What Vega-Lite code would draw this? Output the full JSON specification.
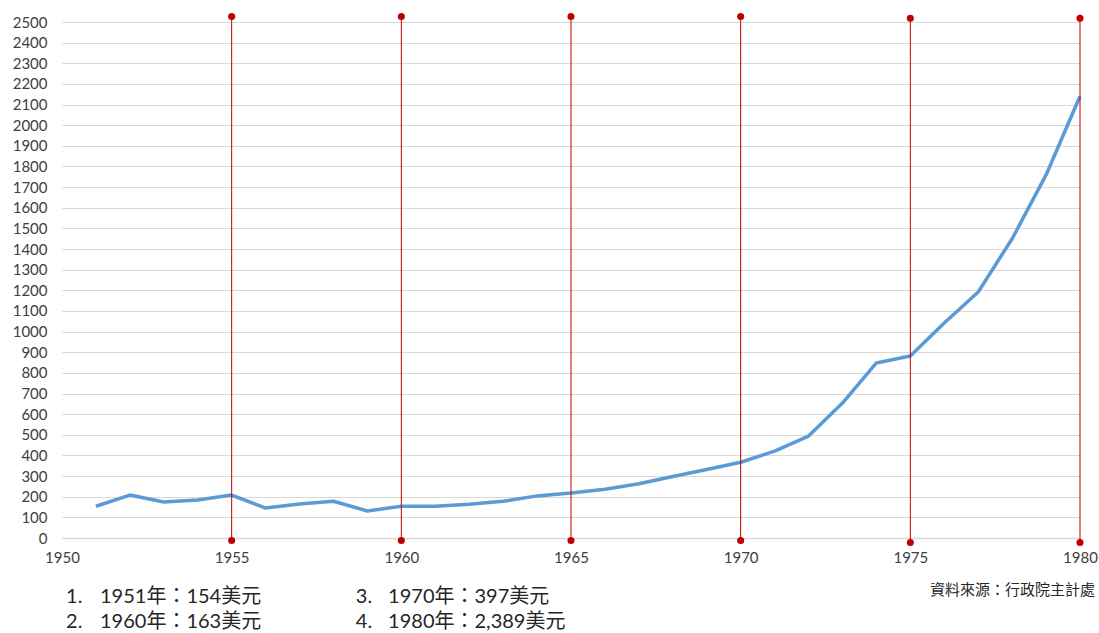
{
  "$schema": "https://vega.github.io/schema/vega-lite/v6.json",
  "width": 1018,
  "height": 516,
  "autosize": {"type": "none"},
  "padding": {"left": 62, "top": 22, "right": 19, "bottom": 95},
  "background": "white",
  "config": {
    "view": {"stroke": null},
    "axis": {"labelFont": "Lato", "labelColor": "#404040", "labelFontSize": 15, "labelFlush": false, "labelBound": false, "labelOverlap": false, "ticks": false, "title": null},
    "axisX": {"grid": false, "domainColor": "#d9d9d9", "domainWidth": 1.5, "labelPadding": 12},
    "axisY": {"grid": true, "gridColor": "#d9d9d9", "gridWidth": 1, "domain": false, "labelPadding": 15}
  },
  "datasets": {
    "gdp": [
      {"year": 1951, "value": 154},
      {"year": 1952, "value": 208},
      {"year": 1953, "value": 174},
      {"year": 1954, "value": 184},
      {"year": 1955, "value": 208},
      {"year": 1956, "value": 145},
      {"year": 1957, "value": 165},
      {"year": 1958, "value": 178},
      {"year": 1959, "value": 131},
      {"year": 1960, "value": 154},
      {"year": 1961, "value": 154},
      {"year": 1962, "value": 163},
      {"year": 1963, "value": 178},
      {"year": 1964, "value": 204},
      {"year": 1965, "value": 218},
      {"year": 1966, "value": 236},
      {"year": 1967, "value": 263},
      {"year": 1968, "value": 298},
      {"year": 1969, "value": 332},
      {"year": 1970, "value": 367},
      {"year": 1971, "value": 421},
      {"year": 1972, "value": 494},
      {"year": 1973, "value": 654},
      {"year": 1974, "value": 848},
      {"year": 1975, "value": 882},
      {"year": 1976, "value": 1042},
      {"year": 1977, "value": 1192},
      {"year": 1978, "value": 1450},
      {"year": 1979, "value": 1759},
      {"year": 1980, "value": 2140}
    ],
    "markers": [
      {"year": 1955, "top": 2527, "bottom": -12},
      {"year": 1960, "top": 2527, "bottom": -12},
      {"year": 1965, "top": 2527, "bottom": -12},
      {"year": 1970, "top": 2527, "bottom": -12},
      {"year": 1975, "top": 2518, "bottom": -22},
      {"year": 1980, "top": 2518, "bottom": -22}
    ]
  },
  "layer": [
    {
      "data": {"name": "gdp"},
      "mark": {"type": "line", "color": "#5b9bd5", "strokeWidth": 3.5, "strokeJoin": "round"},
      "encoding": {
        "x": {
          "field": "year", "type": "quantitative",
          "scale": {"domain": [1950, 1980], "nice": false, "zero": false},
          "axis": {"values": [1950, 1955, 1960, 1965, 1970, 1975, 1980], "format": "d"}
        },
        "y": {
          "field": "value", "type": "quantitative",
          "scale": {"domain": [0, 2500], "nice": false},
          "axis": {"values": [0,100,200,300,400,500,600,700,800,900,1000,1100,1200,1300,1400,1500,1600,1700,1800,1900,2000,2100,2200,2300,2400,2500], "format": "d"}
        }
      }
    },
    {
      "data": {"name": "markers"},
      "mark": {"type": "rule", "color": "#c00000", "strokeWidth": 1},
      "encoding": {
        "x": {"field": "year", "type": "quantitative", "axis": {"values": [1950, 1955, 1960, 1965, 1970, 1975, 1980], "format": "d"}},
        "y": {"field": "top", "type": "quantitative", "axis": {"values": [0,100,200,300,400,500,600,700,800,900,1000,1100,1200,1300,1400,1500,1600,1700,1800,1900,2000,2100,2200,2300,2400,2500], "format": "d"}},
        "y2": {"field": "bottom"}
      }
    },
    {
      "data": {"name": "markers"},
      "mark": {"type": "point", "filled": true, "color": "#c00000", "size": 50, "opacity": 1},
      "encoding": {
        "x": {"field": "year", "type": "quantitative", "axis": {"values": [1950, 1955, 1960, 1965, 1970, 1975, 1980], "format": "d"}},
        "y": {"field": "top", "type": "quantitative", "axis": {"values": [0,100,200,300,400,500,600,700,800,900,1000,1100,1200,1300,1400,1500,1600,1700,1800,1900,2000,2100,2200,2300,2400,2500], "format": "d"}}
      }
    },
    {
      "data": {"name": "markers"},
      "mark": {"type": "point", "filled": true, "color": "#c00000", "size": 50, "opacity": 1},
      "encoding": {
        "x": {"field": "year", "type": "quantitative", "axis": {"values": [1950, 1955, 1960, 1965, 1970, 1975, 1980], "format": "d"}},
        "y": {"field": "bottom", "type": "quantitative", "axis": {"values": [0,100,200,300,400,500,600,700,800,900,1000,1100,1200,1300,1400,1500,1600,1700,1800,1900,2000,2100,2200,2300,2400,2500], "format": "d"}}
      }
    },
    {
      "data": {"values": [
        {"label": "1.", "col": 1950.12, "row": -288},
        {"label": "1951年：154美元", "col": 1951.12, "row": -288},
        {"label": "2.", "col": 1950.12, "row": -407},
        {"label": "1960年：163美元", "col": 1951.12, "row": -407},
        {"label": "3.", "col": 1958.66, "row": -288},
        {"label": "1970年：397美元", "col": 1959.61, "row": -288},
        {"label": "4.", "col": 1958.66, "row": -407},
        {"label": "1980年：2,389美元", "col": 1959.61, "row": -407}
      ]},
      "mark": {"type": "text", "font": "Lato, Noto Sans CJK TC", "fontSize": 20, "color": "#262626", "align": "left", "baseline": "middle"},
      "encoding": {
        "x": {"field": "col", "type": "quantitative", "axis": {"values": [1950, 1955, 1960, 1965, 1970, 1975, 1980], "format": "d"}},
        "y": {"field": "row", "type": "quantitative", "axis": {"values": [0,100,200,300,400,500,600,700,800,900,1000,1100,1200,1300,1400,1500,1600,1700,1800,1900,2000,2100,2200,2300,2400,2500], "format": "d"}},
        "text": {"field": "label"}
      }
    },
    {
      "data": {"values": [{"label": "資料來源：行政院主計處", "col": 1980.44, "row": -252}]},
      "mark": {"type": "text", "font": "Noto Sans CJK TC", "fontSize": 15, "color": "#262626", "align": "right", "baseline": "middle"},
      "encoding": {
        "x": {"field": "col", "type": "quantitative", "axis": {"values": [1950, 1955, 1960, 1965, 1970, 1975, 1980], "format": "d"}},
        "y": {"field": "row", "type": "quantitative", "axis": {"values": [0,100,200,300,400,500,600,700,800,900,1000,1100,1200,1300,1400,1500,1600,1700,1800,1900,2000,2100,2200,2300,2400,2500], "format": "d"}},
        "text": {"field": "label"}
      }
    }
  ]
}
